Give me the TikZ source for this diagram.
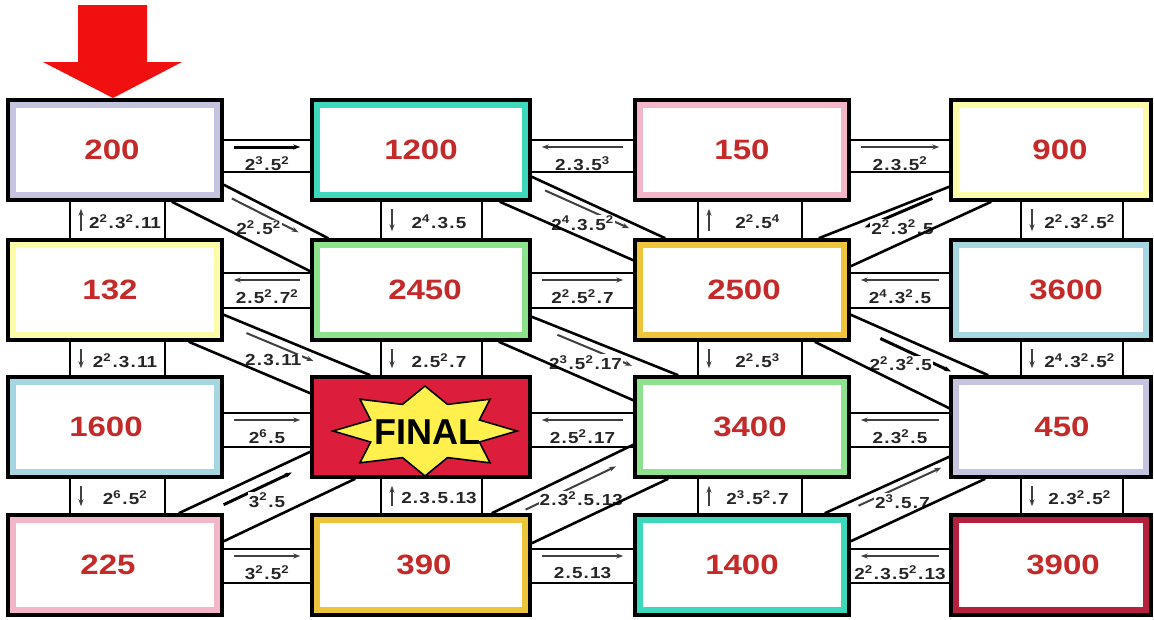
\documentclass[tikz,border=0pt]{standalone}
\usepackage{fontspec}
\setmainfont{Liberation Sans}
\newfontfamily\numfont[FakeStretch=1.18]{Liberation Sans}
\usetikzlibrary{positioning, calc}
\usetikzlibrary{arrows.meta}

\definecolor{lav}{HTML}{C4C4E0}
\definecolor{turq}{HTML}{3ED8BC}
\definecolor{pinkf}{HTML}{F2B6C8}
\definecolor{lyel}{HTML}{FCFCA8}
\definecolor{lgrn}{HTML}{8EE28E}
\definecolor{gold}{HTML}{EEC43A}
\definecolor{lblu}{HTML}{A6D6E2}
\definecolor{crim}{HTML}{B4203E}
\definecolor{finred}{HTML}{DC1E3C}
\definecolor{numred}{HTML}{C42A2A}
\definecolor{staryel}{HTML}{FFF04E}
\definecolor{arrred}{HTML}{F01010}

\newcommand{\pow}[1]{\textsuperscript{#1}}
\newcommand{\sepdot}{\kern1.2pt.\kern1.2pt}

\tikzset{
  numbox/.style={draw=black, line width=3.5pt, fill=#1, minimum height=100pt, inner sep=0pt,
    text=numred, font=\numfont\bfseries\fontsize{28}{30}\selectfont,
    path picture={\fill[white] ([shift={(8pt,8pt)}]path picture bounding box.south west)
      rectangle ([shift={(-8pt,-8pt)}]path picture bounding box.north east);}},
  finalbox/.style={draw=black, line width=3.5pt, fill=finred, minimum width=218pt,
    minimum height=100pt, inner sep=0pt},
  cwall/.style={line width=2.6pt, black},
  ctag/.style={font=\numfont\bfseries\fontsize{16}{17}\selectfont, text=black!85, inner sep=1pt},
  carrow/.style={line width=2pt, black!75},
  carrowbold/.style={line width=3pt, black},
  headend/.style={->},
  headstart/.style={<-}
}

\begin{document}
\begin{tikzpicture}[x=1pt,y=-1pt,>={Stealth[length=7pt,width=5pt]}]
\useasboundingbox (0,0) rectangle (1154,619);

% --- Freccia d'ingresso
\fill[arrred] (78,5) -- (147,5) -- (147,62) -- (182,62) -- (113,98) -- (43,62) -- (78,62) -- cycle;

% --- Caselle (nome/x/y/larghezza/colore/spostamento del numero)
\foreach \nm/\cx/\cy/\bw/\bc/\dx in {200/115/150/214/lav/-3, 1200/421/150/218/turq/0,
    150/742/150/214/pinkf/0, 900/1051/150/200/lyel/9, 132/115/290/214/lyel/-5,
    2450/421/290/218/lgrn/4, 2500/742/290/214/gold/2, 3600/1051/290/200/lblu/15,
    1600/115/427/214/lblu/-9, 3400/742/427/214/lgrn/8, 450/1051/427/200/lav/11,
    225/115/565/214/pinkf/-7, 390/421/565/218/gold/3, 1400/742/565/214/turq/0,
    3900/1051/565/200/crim/12}{
  \node[numbox=\bc, minimum width=\bw pt] (b\nm) at (\cx,\cy) {\kern\dx pt\nm\kern-\dx pt};
}

% --- Casella finale con stella
\node[finalbox] (bfin) at (421,427) {};
\draw[line width=1.6pt, fill=staryel, shift={(bfin.center)}, xshift=4pt, yshift=-4pt, x=92pt, y=45pt]
  (0:1) \foreach \k in {1,...,15}{ -- ({\k*22.5}:{1-0.36*mod(\k,2)}) } -- cycle;
\node[font=\bfseries\fontsize{36}{38}\selectfont, text=black] (fintxt)
  at ([xshift=6pt,yshift=-5pt]bfin.center) {FINAL};

% --- Corridoi orizzontali
\foreach \na/\nb/\yt/\yb/\st/\hd/\lab [count=\k] in {
    b200/b1200/10/-22/carrowbold/headend/{2\pow{3}\sepdot5\pow{2}},
    b1200/b150/10/-22/carrow/headstart/{2\sepdot3\sepdot5\pow{3}},
    b150/b900/10/-22/carrow/headend/{2\sepdot3\sepdot5\pow{2}},
    b132/b2450/17/-18/carrow/headstart/{2\sepdot5\pow{2}\sepdot7\pow{2}},
    b2450/b2500/17/-18/carrow/headend/{2\pow{2}\sepdot5\pow{2}\sepdot7},
    b2500/b3600/17/-18/carrow/headstart/{2\pow{4}\sepdot3\pow{2}\sepdot5},
    b1600/bfin/14/-20/carrow/headend/{2\pow{6}\sepdot5},
    bfin/b3400/14/-20/carrow/headstart/{2\sepdot5\pow{2}\sepdot17},
    b3400/b450/14/-20/carrow/headstart/{2\sepdot3\pow{2}\sepdot5},
    b225/b390/16/-18/carrow/headend/{3\pow{2}\sepdot5\pow{2}},
    b390/b1400/16/-18/carrow/headend/{2\sepdot5\sepdot13},
    b1400/b3900/16/-18/carrow/headstart/{2\pow{2}\sepdot3\sepdot5\pow{2}\sepdot13}}{
  \pgfmathsetmacro{\ay}{\yt-7}
  \pgfmathsetmacro{\ty}{\yt-24}
  \draw[cwall] ([yshift=\yt pt]\na.east) -- ([yshift=\yt pt]\nb.west);
  \draw[cwall] ([yshift=\yb pt]\na.east) -- ([yshift=\yb pt]\nb.west);
  \draw[\st,\hd] ([xshift=10pt,yshift=\ay pt]\na.east) -- ([xshift=-10pt,yshift=\ay pt]\nb.west);
  \node[ctag] (hl\k) at ($(\na.east)!.5!(\nb.west)+(0pt,\ty pt)$) {\lab};
}

% --- Corridoi verticali
\foreach \na/\nb/\xl/\xr/\hd/\lab [count=\k] in {
    b200/b132/-45/50/headstart/{2\pow{2}\sepdot3\pow{2}\sepdot11},
    b132/b1600/-45/50/headend/{2\pow{2}\sepdot3\sepdot11},
    b1600/b225/-45/50/headend/{2\pow{6}\sepdot5\pow{2}},
    b1200/b2450/-40/61/headend/{2\pow{4}\sepdot3\sepdot5},
    b2450/bfin/-40/61/headend/{2\sepdot5\pow{2}\sepdot7},
    bfin/b390/-40/61/headstart/{2\sepdot3\sepdot5\sepdot13},
    b150/b2500/-44/60/headstart/{2\pow{2}\sepdot5\pow{4}},
    b2500/b3400/-44/60/headend/{2\pow{2}\sepdot5\pow{3}},
    b3400/b1400/-44/60/headstart/{2\pow{3}\sepdot5\pow{2}\sepdot7},
    b900/b3600/-30/72/headend/{2\pow{2}\sepdot3\pow{2}\sepdot5\pow{2}},
    b3600/b450/-30/72/headend/{2\pow{4}\sepdot3\pow{2}\sepdot5\pow{2}},
    b450/b3900/-30/72/headend/{2\sepdot3\pow{2}\sepdot5\pow{2}}}{
  \pgfmathsetmacro{\ax}{\xl+11}
  \pgfmathsetmacro{\tx}{(\xl+11+\xr)/2+2}
  \draw[cwall] ([xshift=\xl pt]\na.south) -- ([xshift=\xl pt]\nb.north);
  \draw[cwall] ([xshift=\xr pt]\na.south) -- ([xshift=\xr pt]\nb.north);
  \draw[carrow,\hd] ([xshift=\ax pt,yshift=-7pt]\na.south) -- ([xshift=\ax pt,yshift=7pt]\nb.north);
  \node[ctag] (vl\k) at ($(\na.south)!.5!(\nb.north)+(\tx pt,-2pt)$) {\lab};
}

% --- Corridoi diagonali: punti d'appoggio
% 200 -> 2450
\path ([yshift=17pt]b200.south east) coordinate (d1-a) ([xshift=18pt]b2450.north west) coordinate (d1-b)
      ([xshift=-52pt]b200.south east) coordinate (d1-c) ([yshift=-33pt]b2450.north west) coordinate (d1-d);
% 1200 -> 2500
\path ([yshift=25pt]b1200.south east) coordinate (d2-a) ([xshift=32pt]b2500.north west) coordinate (d2-b)
      ([xshift=-32pt]b1200.south east) coordinate (d2-c) ([yshift=-22pt]b2500.north west) coordinate (d2-d);
% 900 -> 2500
\path ([yshift=15pt]b900.south west) coordinate (d3-a) ([xshift=-32pt]b2500.north east) coordinate (d3-b)
      ([xshift=42pt]b900.south west) coordinate (d3-c) ([yshift=-28pt]b2500.north east) coordinate (d3-d);
% 132 -> FINAL
\path ([yshift=27pt]b132.south east) coordinate (d4-a) ([xshift=60pt]bfin.north west) coordinate (d4-b)
      ([xshift=-35pt]b132.south east) coordinate (d4-c) ([yshift=-18pt]bfin.north west) coordinate (d4-d);
% 2450 -> 3400
\path ([yshift=25pt]b2450.south east) coordinate (d5-a) ([xshift=45pt]b3400.north west) coordinate (d5-b)
      ([xshift=-33pt]b2450.south east) coordinate (d5-c) ([yshift=-25pt]b3400.north west) coordinate (d5-d);
% 2500 -> 450
\path ([yshift=27pt]b2500.south east) coordinate (d6-a) ([xshift=39pt]b450.north west) coordinate (d6-b)
      ([xshift=-36pt]b2500.south east) coordinate (d6-c) ([yshift=-33pt]b450.north west) coordinate (d6-d);
% 225 -> FINAL
\path ([xshift=-45pt]b225.north east) coordinate (d7-a) ([yshift=27pt]bfin.south west) coordinate (d7-b)
      ([yshift=-28pt]b225.north east) coordinate (d7-c) ([xshift=45pt]bfin.south west) coordinate (d7-d);
% 390 -> 3400
\path ([xshift=-40pt]b390.north east) coordinate (d8-a) ([yshift=34pt]b3400.south west) coordinate (d8-b)
      ([yshift=-30pt]b390.north east) coordinate (d8-c) ([xshift=35pt]b3400.south west) coordinate (d8-d);
% 1400 -> 450
\path ([xshift=-26pt]b1400.north east) coordinate (d9-a) ([yshift=22pt]b450.south west) coordinate (d9-b)
      ([yshift=-28pt]b1400.north east) coordinate (d9-c) ([xshift=36pt]b450.south west) coordinate (d9-d);

% --- Frecce ed etichette diagonali
\foreach \k/\st/\p/\q/\lab in {
    1/carrow/.28/.83/{2\pow{2}\sepdot5\pow{2}},
    2/carrow/.22/.85/{2\pow{4}\sepdot3\sepdot5\pow{2}},
    3/carrowbold/.28/.78/{2\pow{2}\sepdot3\pow{2}\sepdot5},
    4/carrow/.3/.8/{2\sepdot3\sepdot11},
    5/carrow/.3/.83/{2\pow{3}\sepdot5\pow{2}\sepdot17},
    6/carrowbold/.35/.87/{2\pow{2}\sepdot3\pow{2}\sepdot5},
    7/carrowbold/.17/.69/{3\pow{2}\sepdot5},
    8/carrow/.1/.75/{2\sepdot3\pow{2}\sepdot5\sepdot13},
    9/carrow/.16/.8/{2\pow{3}\sepdot5\sepdot7}}{
  \path ($(d\k-a)!.5!(d\k-c)$) coordinate (m0) ($(d\k-b)!.5!(d\k-d)$) coordinate (m1);
  \draw[\st,->] ($(m0)!\p!(m1)+(0pt,12pt)$) -- ($(m0)!\q!(m1)+(0pt,12pt)$);
  \node[ctag, fill=white] (dl\k) at ($(m0)!.5!(m1)+(0pt,-4pt)$) {\lab};
}

% --- Pareti diagonali
\foreach \k in {1,...,9}
  \draw[cwall] (d\k-a) -- (d\k-b) (d\k-c) -- (d\k-d);

\end{tikzpicture}
\end{document}
